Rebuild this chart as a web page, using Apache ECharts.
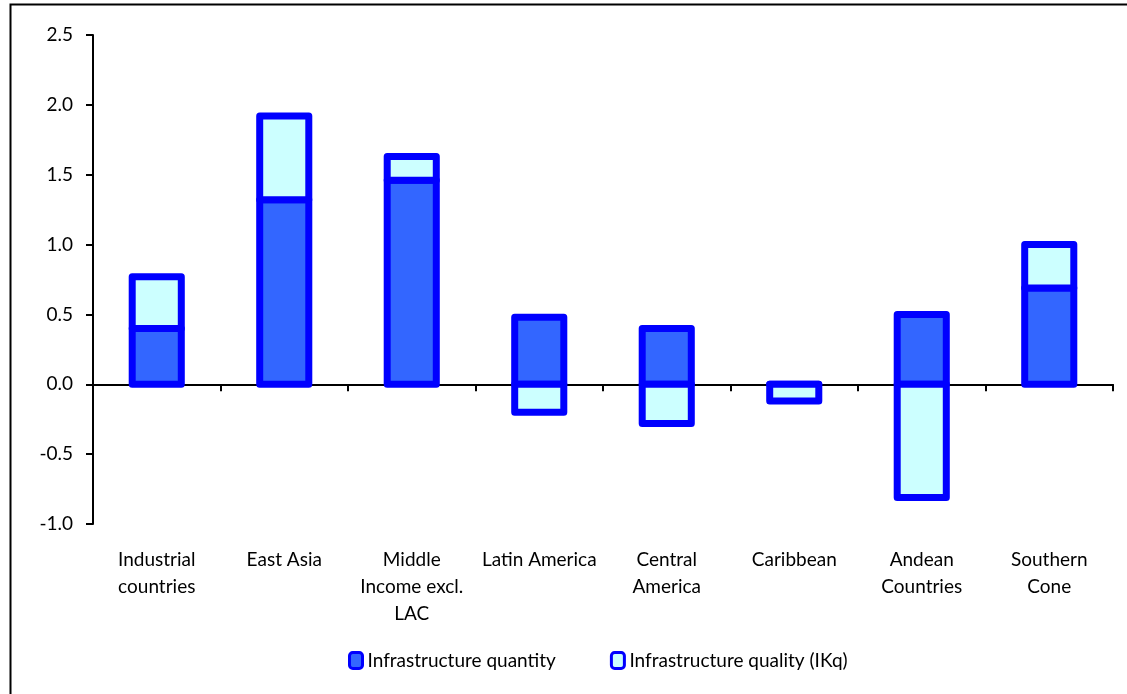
<!DOCTYPE html>
<html>
<head>
<meta charset="utf-8">
<title>Infrastructure</title>
<script src="https://cdn.jsdelivr.net/npm/echarts@6/dist/echarts.min.js"></script>
<style>
  html, body { margin: 0; padding: 0; background: #fff; }
  #main { width: 1127px; height: 694px; }
</style>
</head>
<body>
<div id="main"></div>
<script>
// data
var categories = ['Industrial\ncountries', 'East Asia', 'Middle\nIncome excl.\nLAC', 'Latin America',
    'Central\nAmerica', 'Caribbean', 'Andean\nCountries', 'Southern\nCone'];
var quantity = [0.40, 1.32, 1.46, 0.48, 0.40, 0, 0.50, 0.69];
var quality = [0.37, 0.60, 0.17, -0.20, -0.28, -0.12, -0.81, 0.31];
var yTicks = [-1.0, -0.5, 0.0, 0.5, 1.0, 1.5, 2.0, 2.5];

var font = 'Lato, "Open Sans", sans-serif';
var edge = '#0000FF';

// Excel-style stacked box: stroke centred on the edge, so the shared edge is one line
function boxRenderer(fill, baseOf) {
    return function (params, api) {
        var i = api.value(0);
        var v = api.value(1);
        var b = baseOf(params.dataIndex, v);
        var p0 = api.coord([i, b]);
        var p1 = api.coord([i, b + v]);
        var w = api.size([1, 0])[0] * 0.385;
        return {
            type: 'rect',
            shape: { x: p0[0] - w / 2, y: Math.min(p0[1], p1[1]), width: w, height: Math.abs(p1[1] - p0[1]) },
            style: { fill: fill, stroke: edge, lineWidth: 7, lineJoin: 'round' }
        };
    };
}

var chart = echarts.init(document.getElementById('main'));

chart.setOption({
    animation: false,
    textStyle: { fontFamily: font },
    graphic: [{
        type: 'rect',
        shape: { x: 10.5, y: 4.5, width: 1140, height: 720 },
        style: { fill: null, stroke: '#000', lineWidth: 2 }
    }],
    grid: { left: 93, right: 14, top: 35, bottom: 170, containLabel: false },
    legend: {
        bottom: 19,
        left: 343,
        itemGap: 54,
        itemWidth: 13,
        itemHeight: 16,
        textStyle: { fontSize: 19, color: '#000', fontFamily: font },
        data: [
            { name: 'Infrastructure quantity', icon: 'roundRect', itemStyle: { color: '#3366FF', borderColor: edge, borderWidth: 3 } },
            { name: 'Infrastructure quality (IKq)', icon: 'roundRect', itemStyle: { color: '#CCFFFF', borderColor: edge, borderWidth: 3 } }
        ]
    },
    xAxis: [{
        type: 'category',
        data: categories,
        position: 'bottom',
        axisLine: { show: false, onZero: false },
        axisTick: { show: false },
        axisLabel: { color: '#000', fontSize: 19, lineHeight: 27, margin: 22, interval: 0, fontFamily: font }
    }, {
        type: 'category',
        data: categories,
        position: 'bottom',
        axisLine: { onZero: true, lineStyle: { color: '#000', width: 2 } },
        axisTick: { show: true, length: 7, lineStyle: { color: '#000', width: 2 } },
        axisLabel: { show: false }
    }],
    yAxis: {
        type: 'value',
        min: yTicks[0],
        max: yTicks[yTicks.length - 1],
        interval: 0.5,
        axisLine: { show: true, onZero: false, lineStyle: { color: '#000', width: 2 } },
        axisTick: { show: true, length: 7, lineStyle: { color: '#000', width: 2 } },
        splitLine: { show: false },
        axisLabel: {
            color: '#000', fontSize: 19, margin: 20, fontFamily: font,
            formatter: function (v) { return v.toFixed(1); }
        }
    },
    series: [{
        name: 'Infrastructure quantity',
        type: 'custom',
        itemStyle: { color: '#3366FF' },
        data: quantity.map(function (v, i) { return [i, v]; }),
        renderItem: boxRenderer('#3366FF', function () { return 0; })
    }, {
        name: 'Infrastructure quality (IKq)',
        type: 'custom',
        itemStyle: { color: '#CCFFFF' },
        data: quality.map(function (v, i) { return [i, v]; }),
        // same-sign stacking, as Excel does
        renderItem: boxRenderer('#CCFFFF', function (i, v) {
            var q = quantity[i];
            return (q > 0 && v >= 0) || (q < 0 && v < 0) ? q : 0;
        })
    }]
});
</script>
</body>
</html>
